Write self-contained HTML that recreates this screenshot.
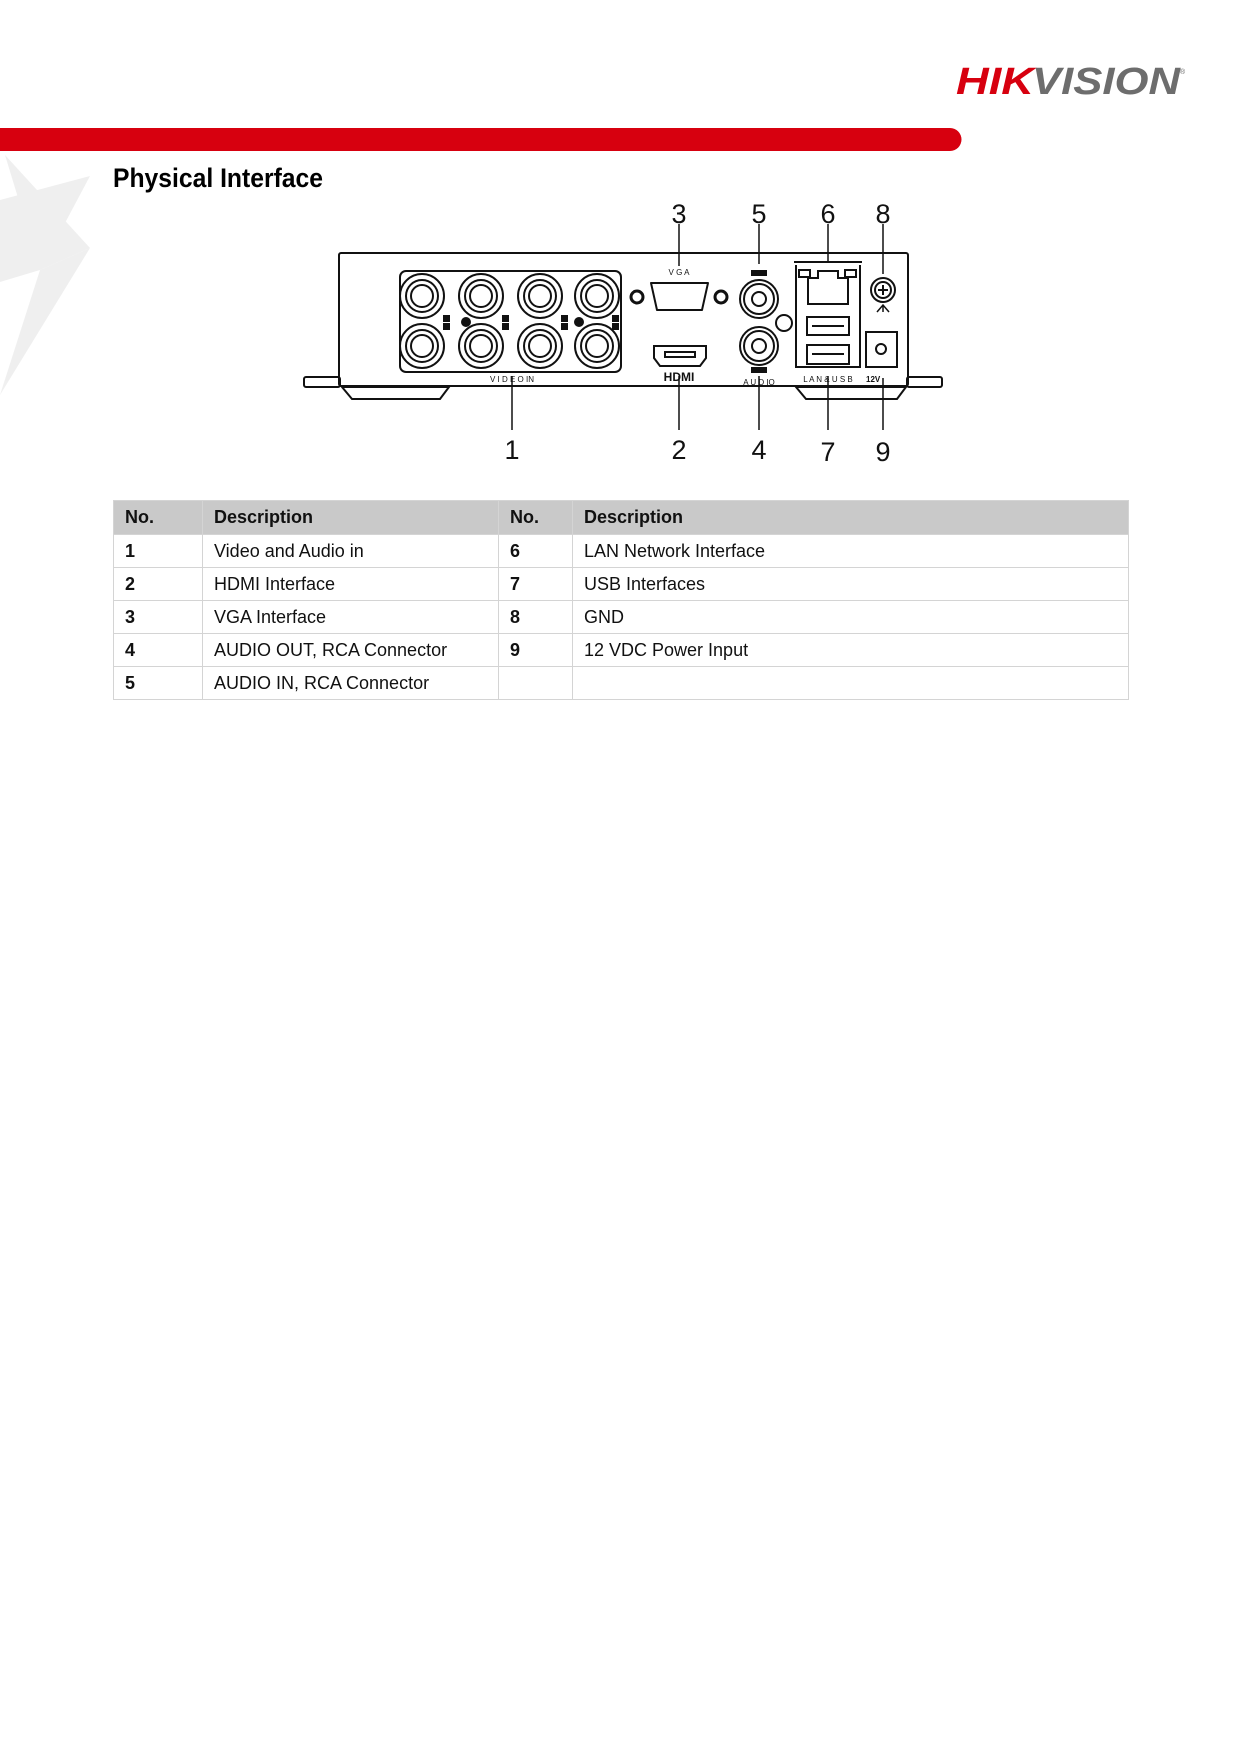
<!DOCTYPE html>
<html><head><meta charset="utf-8"><style>
html,body{margin:0;padding:0;background:#fff;}
body{width:1236px;height:1748px;position:relative;overflow:hidden;font-family:"Liberation Sans",sans-serif;}
.t{position:absolute;}
table{position:absolute;left:113px;top:500px;width:1016px;border-collapse:collapse;font-size:18px;color:#111;}
td{border:1.5px solid #d4d4d4;height:32px;padding:0 0 0 11px;vertical-align:middle;}
tr.h td{background:#c9c9c9;font-weight:bold;height:33px;}
td.b{font-weight:bold;}
</style></head><body>
<svg class="t" style="left:0;top:0" width="1236" height="500">
 <g fill="#888" opacity="0.13">
  <polygon points="5,155 90,248 40,270"/>
  <polygon points="0,200 90,176 40,270 0,282"/>
  <polygon points="40,270 90,248 0,395"/>
 </g>
 <path d="M0 128 H950 a11.5 11.5 0 0 1 0 23 H0 Z" fill="#d7000f"/>
 <text x="956" y="94" font-size="38" font-weight="bold" font-style="italic" fill="#d7000f" textLength="78" lengthAdjust="spacingAndGlyphs">HIK</text>
 <text x="1032" y="94" font-size="38" font-weight="bold" font-style="italic" fill="#6d6d6d" textLength="148" lengthAdjust="spacingAndGlyphs">VISION</text>
 <text x="1180" y="74" font-size="7" fill="#666">®</text>
 <text x="113" y="187" font-size="27" font-weight="bold" fill="#000" textLength="210" lengthAdjust="spacingAndGlyphs">Physical Interface</text>
 <g stroke="#111" fill="none" stroke-width="2">
  <rect x="304" y="377" width="36" height="10" rx="2"/>
  <rect x="907" y="377" width="35" height="10" rx="2"/>
  <polygon points="342,387 449,387 440,399 352,399"/>
  <polygon points="796,387 906,387 897,399 806,399"/>
  <rect x="339" y="253" width="569" height="133" rx="2"/>
  <rect x="400" y="271" width="221" height="101" rx="6"/>
 </g>
 <g stroke="#111" fill="none" stroke-width="2">
  <circle cx="422" cy="296" r="22"/><circle cx="422" cy="296" r="16"/><circle cx="422" cy="296" r="11"/>
  <circle cx="481" cy="296" r="22"/><circle cx="481" cy="296" r="16"/><circle cx="481" cy="296" r="11"/>
  <circle cx="540" cy="296" r="22"/><circle cx="540" cy="296" r="16"/><circle cx="540" cy="296" r="11"/>
  <circle cx="597" cy="296" r="22"/><circle cx="597" cy="296" r="16"/><circle cx="597" cy="296" r="11"/>
  <circle cx="422" cy="346" r="22"/><circle cx="422" cy="346" r="16"/><circle cx="422" cy="346" r="11"/>
  <circle cx="481" cy="346" r="22"/><circle cx="481" cy="346" r="16"/><circle cx="481" cy="346" r="11"/>
  <circle cx="540" cy="346" r="22"/><circle cx="540" cy="346" r="16"/><circle cx="540" cy="346" r="11"/>
  <circle cx="597" cy="346" r="22"/><circle cx="597" cy="346" r="16"/><circle cx="597" cy="346" r="11"/>
  <path d="M651 283 H708 L702 310 H657 Z" stroke-linejoin="round"/>
  <circle cx="637" cy="297" r="6" stroke-width="3"/><circle cx="721" cy="297" r="6" stroke-width="3"/>
  <path d="M654 346 H706 V358 L700 366 H660 L654 358 Z"/>
  <rect x="665" y="352" width="30" height="5"/>
  <circle cx="759" cy="299" r="19"/><circle cx="759" cy="299" r="15"/><circle cx="759" cy="299" r="7"/>
  <circle cx="759" cy="346" r="19"/><circle cx="759" cy="346" r="15"/><circle cx="759" cy="346" r="7"/>
  <circle cx="784" cy="323" r="8"/>
  <path d="M796 265 V367 H860 V265"/>
  <path d="M794 262 H862"/>
  <rect x="799" y="270" width="11" height="7"/><rect x="845" y="270" width="11" height="7"/>
  <path d="M808 278 H818 V271 H838 V278 H848 V304 H808 Z"/>
  <rect x="807" y="317" width="42" height="18"/><rect x="807" y="345" width="42" height="19"/>
  <path d="M812 326 H844 M812 354 H844"/>
  <circle cx="883" cy="290" r="12"/><circle cx="883" cy="290" r="8"/>
  <path d="M878 290 H888 M883 285 V295"/>
  <path d="M877 312 L883 305 L889 312 M883 305 V312" stroke-width="1.5"/>
  <rect x="866" y="332" width="31" height="35"/>
  <circle cx="881" cy="349" r="5"/>
  <path d="M679 224 V266 M759 224 V264 M828 224 V261 M883 224 V274" stroke-width="1.5"/>
  <path d="M512 376 V430 M679 376 V430 M759 376 V430 M828 376 V430 M883 378 V430" stroke-width="1.5"/>
 </g>
 <g fill="#111">
  <circle cx="466" cy="322" r="5"/><circle cx="579" cy="322" r="5"/>
  <rect x="443" y="315" width="7" height="7"/><rect x="443" y="323" width="7" height="7"/>
  <rect x="502" y="315" width="7" height="7"/><rect x="502" y="323" width="7" height="7"/>
  <rect x="561" y="315" width="7" height="7"/><rect x="561" y="323" width="7" height="7"/>
  <rect x="612" y="315" width="7" height="7"/><rect x="612" y="323" width="7" height="7"/>
  <rect x="751" y="270" width="16" height="6"/><rect x="751" y="367" width="16" height="6"/>
  <g font-size="8">
   <text x="679" y="275" text-anchor="middle">V G A</text>
   <text x="512" y="382" text-anchor="middle">V I D E O  IN</text>
   <text x="759" y="385" text-anchor="middle">A U D IO</text>
   <text x="828" y="382" text-anchor="middle">L A N &amp; U S B</text>
   <text x="866" y="382" font-weight="bold">12V</text>
  </g>
  <text x="679" y="381" font-size="12" font-weight="bold" text-anchor="middle">HDMI</text>
 </g>
 <g font-size="27" fill="#111" text-anchor="middle">
  <text x="679" y="223">3</text><text x="759" y="223">5</text><text x="828" y="223">6</text><text x="883" y="223">8</text>
  <text x="512" y="459">1</text><text x="679" y="459">2</text><text x="759" y="459">4</text><text x="828" y="461">7</text><text x="883" y="461">9</text>
 </g>
</svg>
<table>
<colgroup><col style="width:89px"><col style="width:296px"><col style="width:74px"><col></colgroup>
<tr class="h"><td>No.</td><td>Description</td><td>No.</td><td>Description</td></tr>
<tr><td class="b">1</td><td>Video and Audio in</td><td class="b">6</td><td>LAN Network Interface</td></tr>
<tr><td class="b">2</td><td>HDMI Interface</td><td class="b">7</td><td>USB Interfaces</td></tr>
<tr><td class="b">3</td><td>VGA Interface</td><td class="b">8</td><td>GND</td></tr>
<tr><td class="b">4</td><td>AUDIO OUT, RCA Connector</td><td class="b">9</td><td>12 VDC Power Input</td></tr>
<tr><td class="b">5</td><td>AUDIO IN, RCA Connector</td><td></td><td></td></tr>
</table>
</body></html>
